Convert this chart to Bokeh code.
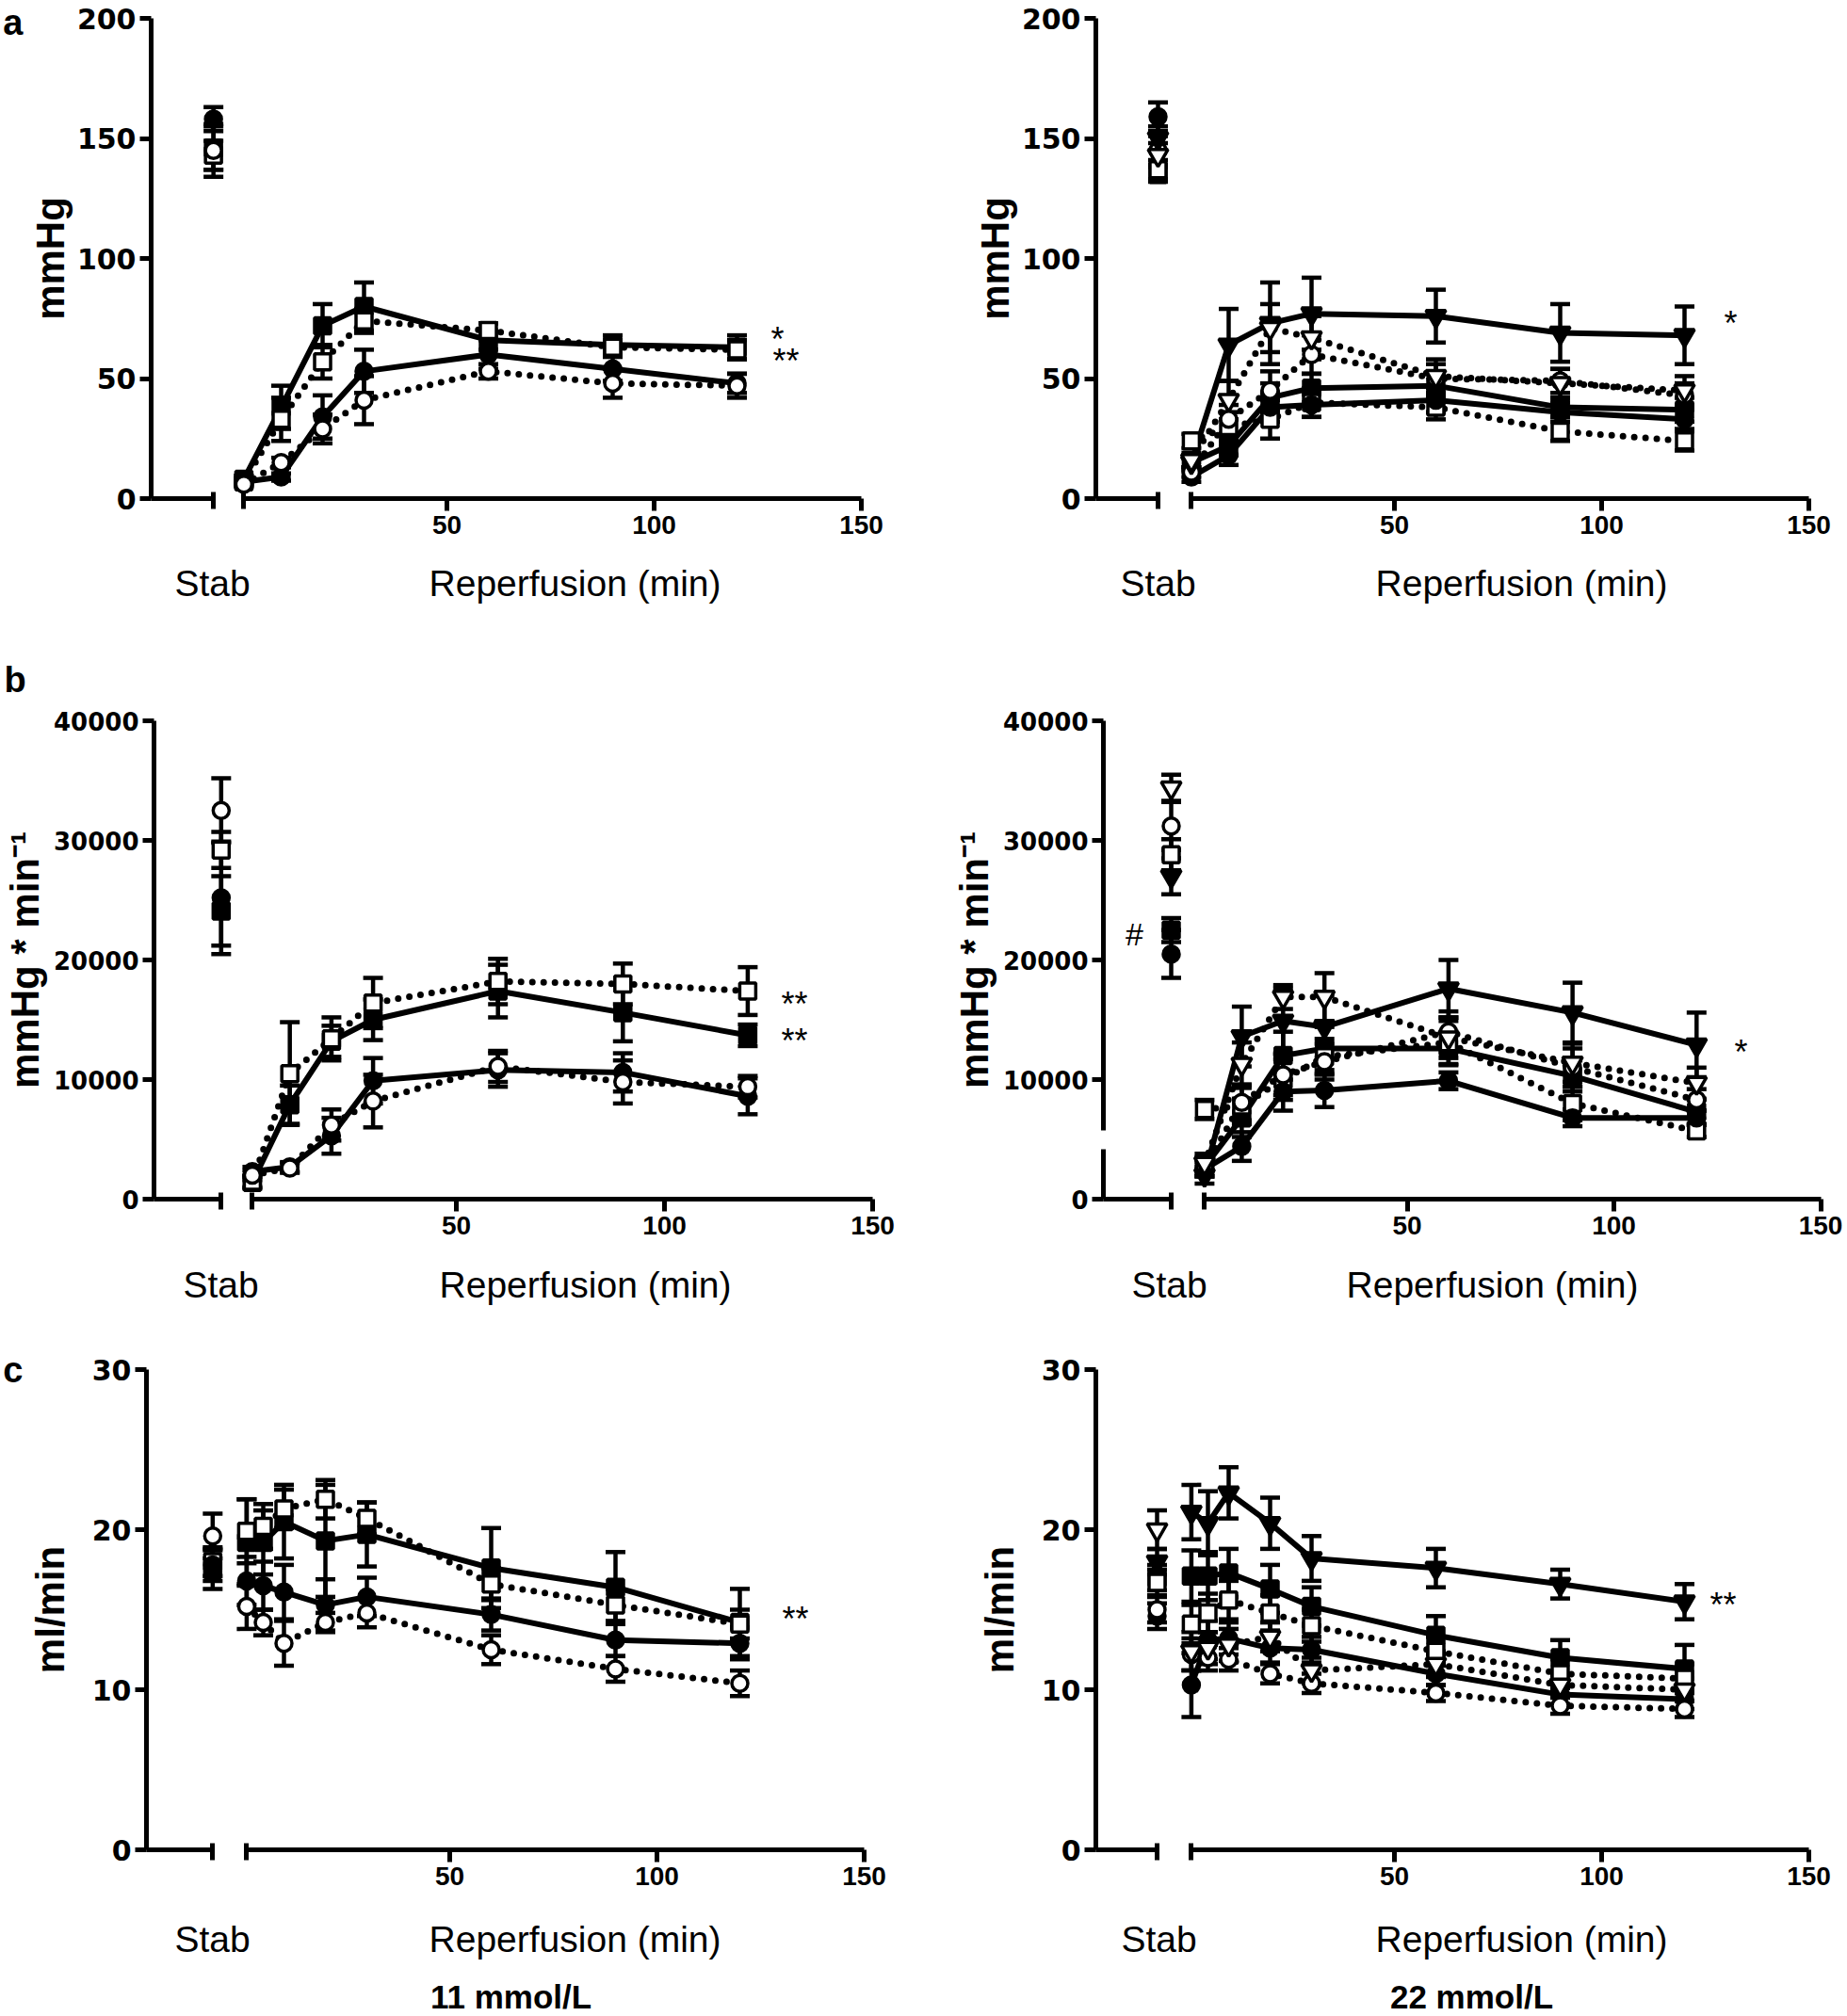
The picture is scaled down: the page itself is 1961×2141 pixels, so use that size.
from bokeh.plotting import figure
from bokeh.layouts import row, column
from bokeh.models import Range1d, FixedTicker, Label, LinearAxis
from bokeh.core.properties import value
from bokeh.embed import file_html
from bokeh.resources import INLINE

FONT = "Liberation Sans"
FONT_Y = "DejaVu Sans"

# ---------------- data ----------------
T_AB = [1, 10, 20, 30, 60, 90, 120]
T_C = [1, 5, 10, 20, 30, 60, 90, 120]

KEYS_11 = ["FS", "OS", "FC", "OC"]
KEYS_22 = ["FS", "OS", "FC", "OC", "FT", "OT"]

# (a) 11 mmol/L  [mmHg]
A11_STAB = [146, 143, 158, 145]
A11_STAB_E = [9, 6, 5, 11]
A11_FS = [8, 38, 72, 80, 66, 64, 63]
A11_FS_E = [1.5, 9, 9, 10, 4, 4, 5]
A11_OS = [7, 33, 57, 74, 70, 63, 62]
A11_OS_E = [1.5, 9, 7, 5, 3, 3, 4]
A11_FC = [7, 9, 34, 53, 60, 54, 48]
A11_FC_E = [1, 1.5, 9, 9, 6, 5, 4]
A11_OC = [6, 15, 29, 41, 53, 48, 47]
A11_OC_E = [1, 2, 6, 10, 3, 6, 5]

# (a) 22 mmol/L  [mmHg]
A22_STAB = [135, 137, 159, 145, 150, 143]
A22_STAB_E = [3, 4, 6, 6, 5, 5]
A22_FS = [15, 22, 42, 46, 47, 38, 37]
A22_FS_E = [2, 4, 6, 6, 5, 4, 5]
A22_OS = [24, 30, 33, 40, 38, 28, 24]
A22_OS_E = [3, 6, 8, 6, 5, 4, 4]
A22_FC = [9, 18, 38, 39, 41, 36, 33]
A22_FC_E = [2, 4, 6, 5, 5, 4, 4]
A22_OC = [11, 33, 45, 60, 50, 49, 43]
A22_OC_E = [2, 6, 8, 8, 6, 5, 5]
A22_FT = [15, 64, 73, 77, 76, 69, 68]
A22_FT_E = [3, 15, 17, 15, 11, 12, 12]
A22_OT = [16, 41, 71, 67, 51, 48, 45]
A22_OT_E = [3, 8, 10, 9, 7, 6, 6]

# (b) 11 mmol/L  [mmHg * min-1]
B11_STAB = [24100, 29200, 25200, 32500]
B11_STAB_E = [2900, 1500, 4700, 2700]
B11_FS = [1400, 7900, 13200, 15000, 17400, 15600, 13700]
B11_FS_E = [500, 1600, 1300, 1700, 2200, 2400, 900]
B11_OS = [1500, 10500, 13400, 16400, 18200, 18000, 17400]
B11_OS_E = [500, 4300, 1800, 2100, 1900, 1700, 2000]
B11_FC = [2300, 2700, 5300, 9900, 10800, 10600, 8600]
B11_FC_E = [400, 400, 1500, 1900, 1400, 1600, 1500]
B11_OC = [2000, 2600, 6200, 8200, 11100, 9800, 9400]
B11_OC_E = [400, 400, 1300, 2200, 1300, 1800, 900]

# (b) 22 mmol/L  [mmHg * min-1]
B22_STAB = [22500, 28800, 20500, 31200, 27000, 34400]
B22_STAB_E = [1000, 1300, 2000, 2000, 1500, 1100]
B22_FS = [2700, 6800, 12000, 12600, 12600, 10300, 7300]
B22_FS_E = [800, 1600, 2000, 1800, 1400, 1300, 1000]
B22_OS = [7500, 7800, 10000, 11900, 13100, 8000, 5700]
B22_OS_E = [800, 1500, 1700, 1500, 1800, 1400, 500]
B22_FC = [2500, 4400, 9000, 9100, 9900, 6800, 6800]
B22_FC_E = [600, 1200, 1600, 1400, 700, 700, 600]
B22_OC = [2600, 8100, 10400, 11500, 14000, 11000, 8300]
B22_OC_E = [700, 1500, 1700, 1500, 1700, 1600, 900]
B22_FT = [2000, 13600, 14900, 14400, 17600, 15600, 12900]
B22_FT_E = [700, 2500, 2700, 2600, 2400, 2500, 2700]
B22_OT = [3000, 11300, 16900, 16900, 13500, 11400, 9700]
B22_OT_E = [800, 1800, 1000, 2000, 1700, 1600, 1300]

# (c) 11 mmol/L  [ml/min]
C11_STAB = [17.5, 18.0, 17.8, 19.6]
C11_STAB_E = [1.2, 0.9, 1.0, 1.4]
C11_FS = [19.2, 19.2, 20.5, 19.3, 19.7, 17.6, 16.4, 14.2]
C11_FS_E = [2.7, 2.0, 2.3, 3.5, 2.0, 2.5, 2.2, 2.1]
C11_OS = [19.9, 20.2, 21.3, 21.9, 20.7, 16.6, 15.3, 14.1]
C11_OS_E = [2.0, 1.4, 1.2, 1.2, 1.0, 1.0, 1.0, 0.9]
C11_FC = [16.8, 16.5, 16.1, 15.3, 15.8, 14.7, 13.1, 12.9]
C11_FC_E = [1.5, 1.5, 1.7, 1.6, 1.2, 1.0, 1.0, 1.0]
C11_OC = [15.2, 14.2, 12.9, 14.2, 14.8, 12.5, 11.3, 10.4]
C11_OC_E = [1.4, 0.8, 1.4, 0.6, 0.9, 0.9, 0.8, 0.8]

# (c) 22 mmol/L  [ml/min]
C22_STAB = [17.0, 16.7, 14.6, 15.0, 18.0, 20.0]
C22_STAB_E = [0.8, 0.8, 0.8, 0.8, 0.8, 1.2]
C22_FS = [17.1, 17.1, 17.3, 16.3, 15.2, 13.4, 12.0, 11.3]
C22_FS_E = [1.6, 1.5, 1.5, 1.5, 1.2, 1.2, 1.1, 1.5]
C22_OS = [14.1, 14.8, 15.6, 14.8, 14.0, 12.4, 11.0, 10.7]
C22_OS_E = [1.2, 1.2, 1.2, 1.1, 1.0, 0.9, 0.9, 0.9]
C22_FC = [10.3, 13.1, 13.2, 12.6, 12.5, 11.0, 9.7, 9.4]
C22_FC_E = [2.0, 1.2, 1.0, 0.9, 0.8, 0.7, 0.6, 0.6]
C22_OC = [12.2, 12.0, 11.9, 11.0, 10.4, 9.8, 9.0, 8.8]
C22_OC_E = [1.0, 0.8, 0.7, 0.6, 0.6, 0.5, 0.5, 0.5]
C22_FT = [21.1, 20.4, 22.3, 20.4, 18.2, 17.6, 16.6, 15.5]
C22_FT_E = [1.7, 2.0, 1.6, 1.6, 1.4, 1.2, 0.9, 1.1]
C22_OT = [12.4, 12.6, 12.8, 13.3, 11.2, 11.6, 10.3, 10.0]
C22_OT_E = [1.2, 1.0, 1.0, 0.9, 0.8, 0.8, 0.7, 0.7]

Y_TICKS_A = [0, 50, 100, 150, 200]
Y_TICKS_B = [0, 10000, 20000, 30000, 40000]
Y_TICKS_C = [0, 10, 20, 30]
X_TICKS = [50, 100, 150]

# ---------------- styles / geometry (page pixels) ----------------
STYLE = {
    "FS": dict(marker="square", fill="black", dotted=False, size=17),
    "OS": dict(marker="square", fill="white", dotted=True, size=17),
    "FC": dict(marker="circle", fill="black", dotted=False, size=17),
    "OC": dict(marker="circle", fill="white", dotted=True, size=17),
    "FT": dict(marker="inverted_triangle", fill="black", dotted=False, size=21),
    "OT": dict(marker="inverted_triangle", fill="white", dotted=True, size=21),
}
PAGE_W = 1961
PAD = 14
ROWS = {
    "a": dict(top=0, ftop=19, fbot=529, bottom=590),
    "b": dict(top=745, ftop=765, fbot=1273, bottom=1330),
    "c": dict(top=1420, ftop=1454, fbot=1964, bottom=2025),
}
LAB = 39   # "Stab" / "Reperfusion (min)" font size


def base(width, height, xr, yr, **kw):
    p = figure(width=width, height=height, x_range=xr, y_range=yr, output_backend="svg",
               toolbar_location=None, title=None, **kw)
    p.outline_line_color = None
    p.grid.visible = False
    p.background_fill_color = "white"
    p.border_fill_color = "white"
    return p


def style_common(ax):
    ax.axis_line_width = 5
    ax.axis_line_color = "black"
    ax.major_tick_line_width = 5
    ax.minor_tick_line_width = 5
    ax.major_tick_line_color = "black"
    ax.minor_tick_line_color = "black"
    ax.major_label_text_color = "black"


def text(p, x, y, s, size, bold=False):
    p.add_layout(Label(x=x, y=y, text=s, text_font=FONT, text_font_size=f"{size}px",
                       text_font_style="bold" if bold else "normal", text_color="black",
                       text_align="center", text_baseline="middle"))


def errbars(p, xs, ys, es):
    lo = [y - e for y, e in zip(ys, es)]
    hi = [y + e for y, e in zip(ys, es)]
    p.segment(x0=xs, y0=lo, x1=xs, y1=hi, line_width=4.5, line_color="black")
    p.scatter(x=list(xs) + list(xs), y=lo + hi, marker="dash", size=21,
              line_width=4.5, line_color="black")


def markers(p, xs, ys, key):
    st = STYLE[key]
    p.scatter(x=xs, y=ys, marker=st["marker"], size=st["size"], fill_color=st["fill"],
              line_color="black", line_width=3.5)


def strip(x_left, x_right, y_top, y_bot, items):
    """A frame-only figure whose data coordinates are page pixels, for free-standing texts."""
    p = base(x_right - x_left, y_bot - y_top, Range1d(x_left, x_right), Range1d(y_bot, y_top),
             x_axis_location=None, y_axis_location=None, min_border=0)
    for (x, y, s, size, bold, align) in items:
        p.text(x=[x], y=[y], text=[s], text_font=value(FONT), text_font_size=value(f"{size}px"),
               text_font_style="bold" if bold else "normal", text_align=align,
               text_baseline="middle", text_color="black")
    return p


def panel(rk, g, ymax, yticks, ylabel, tick_size, lab_standoff, keys, stab, stab_e, times, series,
          sigs, dash=None, hashmark=None, letter=None):
    r = ROWS[rk]
    H = r["bottom"] - r["top"]
    fh = r["fbot"] - r["ftop"]

    def py(v):
        return (r["fbot"] - v) * ymax / fh

    W = g["stab"] - g["yaxis"]
    fw = W + PAD
    sp = base((g["yaxis"] - g["x_left"]) + fw, H, Range1d(0, fw / W), Range1d(0, ymax),
              min_border_left=g["yaxis"] - g["x_left"], min_border_right=0,
              min_border_top=r["ftop"] - r["top"], min_border_bottom=r["bottom"] - r["fbot"])
    xa = sp.xaxis[0]
    style_common(xa)
    xa.ticker = FixedTicker(ticks=[], minor_ticks=[1])
    xa.bounds = (0, 1)
    xa.minor_tick_in = 7
    xa.minor_tick_out = 11
    ya = sp.yaxis[0]
    style_common(ya)
    ya.ticker = FixedTicker(ticks=yticks, minor_ticks=[])
    ya.major_tick_in = 0
    ya.major_tick_out = 12
    ya.major_label_text_font = FONT_Y
    ya.major_label_text_font_style = "bold"
    ya.major_label_text_font_size = f"{tick_size}px"
    ya.major_label_standoff = 4
    ya.axis_label = ylabel
    ya.axis_label_text_font = FONT
    ya.axis_label_text_font_size = "42px"
    ya.axis_label_text_font_style = "bold"
    ya.axis_label_text_color = "black"
    ya.axis_label_standoff = lab_standoff
    if dash is not None:
        ya.axis_line_dash = dash
    if letter is not None:
        # panel letter, shown as the only label of an extra, line-less axis at the far left
        top = yticks[-1]
        la = LinearAxis(ticker=FixedTicker(ticks=[top], minor_ticks=[]),
                        major_label_overrides={top: letter},
                        axis_line_color=None, major_tick_line_color=None,
                        minor_tick_line_color=None, major_tick_in=0, major_tick_out=0,
                        major_label_standoff=2, major_label_text_font=FONT,
                        major_label_text_font_style="bold", major_label_text_font_size="38px",
                        major_label_text_color="black")
        sp.add_layout(la, "left")

    xs1 = [1.0]
    for k, v, e in zip(keys, stab, stab_e):
        errbars(sp, xs1, [v], [e])
    for k, v in zip(keys, stab):
        markers(sp, xs1, [v], k)
    if hashmark is not None:
        hx, hy = hashmark
        text(sp, (hx - g["yaxis"]) / W, py(hy), "#", 34)

    rl = g["stab"] + PAD
    x0, ppm = g["x0"], g["ppm"]
    rp = base(g["x_right"] - rl, H, Range1d((rl - x0) / ppm, (g["x_right"] - x0) / ppm),
              Range1d(0, ymax), y_axis_location=None,
              min_border_left=0, min_border_right=0,
              min_border_top=r["ftop"] - r["top"], min_border_bottom=r["bottom"] - r["fbot"])
    xa = rp.xaxis[0]
    style_common(xa)
    xa.ticker = FixedTicker(ticks=X_TICKS, minor_ticks=[1])
    xa.bounds = (1, 150)
    xa.major_tick_in = 0
    xa.major_tick_out = 13
    xa.minor_tick_in = 7
    xa.minor_tick_out = 11
    xa.major_label_text_font = FONT
    xa.major_label_text_font_style = "bold"
    xa.major_label_text_font_size = "28px"
    xa.major_label_standoff = 5

    for k in keys:
        v, e = series[k]
        errbars(rp, times, v, e)
    for k in keys:
        v, e = series[k]
        if STYLE[k]["dotted"]:
            rp.line(times, v, line_width=7, line_dash="0 12", line_cap="round",
                    line_join="round", line_color="black")
        else:
            rp.line(times, v, line_width=6, line_join="round", line_color="black")
    for k in keys:
        v, e = series[k]
        markers(rp, times, v, k)
    for s, sx, sy in sigs:
        text(rp, (sx - x0) / ppm, py(sy + 8), s, 36)
    return sp, rp


G = {
    "aL": dict(x_left=0, yaxis=153, stab=225, x_right=960, x0=254, ppm=4.40),
    "aR": dict(x_left=960, yaxis=1163, stab=1229, x_right=PAGE_W, x0=1260, ppm=4.40),
    "bL": dict(x_left=0, yaxis=161, stab=234, x_right=960, x0=263, ppm=4.42),
    "bR": dict(x_left=960, yaxis=1171, stab=1243, x_right=PAGE_W, x0=1274, ppm=4.39),
    "cL": dict(x_left=0, yaxis=153, stab=225, x_right=960, x0=257, ppm=4.40),
    "cR": dict(x_left=960, yaxis=1163, stab=1228, x_right=PAGE_W, x0=1260, ppm=4.40),
}

a11 = dict(FS=(A11_FS, A11_FS_E), OS=(A11_OS, A11_OS_E), FC=(A11_FC, A11_FC_E), OC=(A11_OC, A11_OC_E))
a22 = dict(FS=(A22_FS, A22_FS_E), OS=(A22_OS, A22_OS_E), FC=(A22_FC, A22_FC_E), OC=(A22_OC, A22_OC_E),
           FT=(A22_FT, A22_FT_E), OT=(A22_OT, A22_OT_E))
b11 = dict(FS=(B11_FS, B11_FS_E), OS=(B11_OS, B11_OS_E), FC=(B11_FC, B11_FC_E), OC=(B11_OC, B11_OC_E))
b22 = dict(FS=(B22_FS, B22_FS_E), OS=(B22_OS, B22_OS_E), FC=(B22_FC, B22_FC_E), OC=(B22_OC, B22_OC_E),
           FT=(B22_FT, B22_FT_E), OT=(B22_OT, B22_OT_E))
c11 = dict(FS=(C11_FS, C11_FS_E), OS=(C11_OS, C11_OS_E), FC=(C11_FC, C11_FC_E), OC=(C11_OC, C11_OC_E))
c22 = dict(FS=(C22_FS, C22_FS_E), OS=(C22_OS, C22_OS_E), FC=(C22_FC, C22_FC_E), OC=(C22_OC, C22_OC_E),
           FT=(C22_FT, C22_FT_E), OT=(C22_OT, C22_OT_E))

YL_B = "mmHg * min\u207b\u00b9"
GAP_DASH = "53 20 700"

aLs, aLr = panel("a", G["aL"], 200, Y_TICKS_A, "mmHg", 30, 2, KEYS_11, A11_STAB, A11_STAB_E, T_AB, a11,
                 [("*", 825, 352), ("**", 834, 375)], letter="a")
aRs, aRr = panel("a", G["aR"], 200, Y_TICKS_A, "mmHg", 30, 2, KEYS_22, A22_STAB, A22_STAB_E, T_AB, a22,
                 [("*", 1837, 335)])
bLs, bLr = panel("b", G["bL"], 40000, Y_TICKS_B, YL_B, 26, 4, KEYS_11, B11_STAB, B11_STAB_E, T_AB, b11,
                 [("**", 843, 1058), ("**", 843, 1097)])
bRs, bRr = panel("b", G["bR"], 40000, Y_TICKS_B, YL_B, 26, 4, KEYS_22, B22_STAB, B22_STAB_E, T_AB, b22,
                 [("*", 1848, 1109)], dash=GAP_DASH, hashmark=(1204, 991))
cLs, cLr = panel("c", G["cL"], 30, Y_TICKS_C, "ml/min", 30, 18, KEYS_11, C11_STAB, C11_STAB_E, T_C, c11,
                 [("**", 844, 1711)], letter="c")
cRs, cRr = panel("c", G["cR"], 30, Y_TICKS_C, "ml/min", 30, 18, KEYS_22, C22_STAB, C22_STAB_E, T_C, c22,
                 [("**", 1829, 1696)])

strip1 = strip(0, PAGE_W, 590, 745, [
    (225, 619, "Stab", LAB, False, "center"), (610, 619, "Reperfusion (min)", LAB, False, "center"),
    (1229, 619, "Stab", LAB, False, "center"), (1615, 619, "Reperfusion (min)", LAB, False, "center"),
    (4, 721, "b", 38, True, "left"),
])
strip2 = strip(0, PAGE_W, 1330, 1420, [
    (234, 1364, "Stab", LAB, False, "center"), (621, 1364, "Reperfusion (min)", LAB, False, "center"),
    (1241, 1364, "Stab", LAB, False, "center"), (1584, 1364, "Reperfusion (min)", LAB, False, "center"),
])
strip3 = strip(0, PAGE_W, 2025, 2141, [
    (225, 2059, "Stab", LAB, False, "center"), (610, 2059, "Reperfusion (min)", LAB, False, "center"),
    (1230, 2059, "Stab", LAB, False, "center"), (1615, 2059, "Reperfusion (min)", LAB, False, "center"),
    (542, 2120, "11 mmol/L", 35, True, "center"), (1562, 2120, "22 mmol/L", 35, True, "center"),
])

layout = column(
    row(aLs, aLr, aRs, aRr),
    strip1,
    row(bLs, bLr, bRs, bRr),
    strip2,
    row(cLs, cLr, cRs, cRr),
    strip3,
)
open("out.html", "w").write(file_html(layout, INLINE, title="chart"))
